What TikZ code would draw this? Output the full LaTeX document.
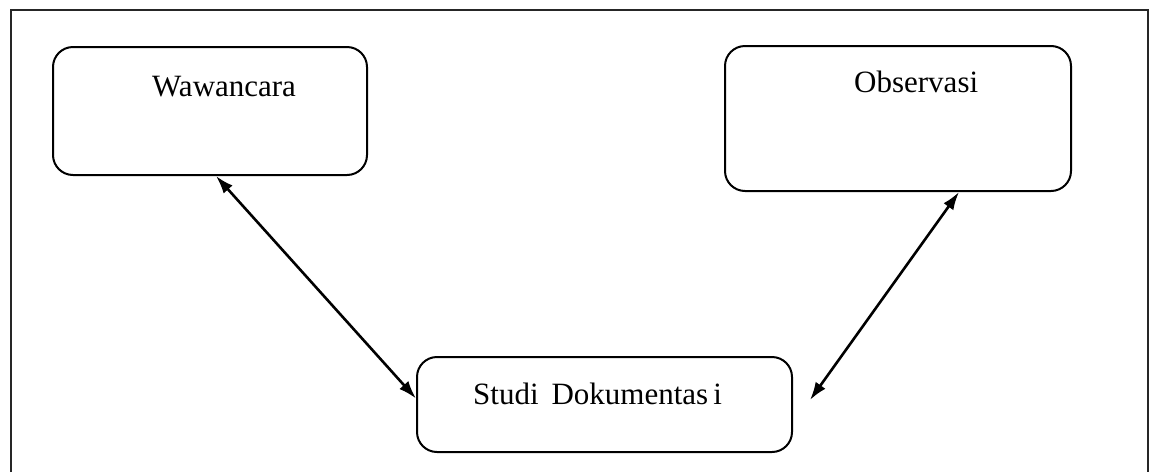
\documentclass[tikz,border=0pt]{standalone}
\usepackage{fontspec}
\setmainfont{Liberation Serif}
\usetikzlibrary{arrows.meta,calc}
\tikzset{
  box/.style={draw=black,line width=2pt,rounded corners=20pt,inner sep=0pt,minimum width=#1},
  lbl/.style={anchor=base west,inner sep=0pt,font=\fontsize{31}{37}\selectfont},
  link/.style={line width=2.6pt,{Latex[length=18pt,width=12pt]}-{Latex[length=18pt,width=12pt]}},
  frame/.style={draw=black!85,line width=2pt}}
\begin{document}
\begin{tikzpicture}[x=1pt,y=-1pt]
\useasboundingbox (0,0) rectangle (1150,472);
\draw[frame] (11,472) -- (11,10) -- (1148,10) -- (1148,472);
\node[box=314pt,minimum height=128pt] (w) at (210,111) {};
\node[box=346pt,minimum height=145pt] (o) at (898,118.5) {};
\node[box=375pt,minimum height=95pt] (s) at (604.5,404.5) {};
\node[lbl] (wt) at (152,96) {Wawancara};
\node[lbl] (ot) at (854,92) {Observasi};
\node[lbl] (st) at (473,404) {Studi\, Dokumentas\,i};
\coordinate (w1) at ($(w.south west)+(164,0)$);
\coordinate (s1) at ($(s.west)+(0,-6)$);
\coordinate (o1) at ($(o.south west)+(235,0)$);
\coordinate (f1) at (810,400);
\draw[link] (w1) -- (s1);
\draw[link] (o1) -- (f1);
\end{tikzpicture}
\end{document}
